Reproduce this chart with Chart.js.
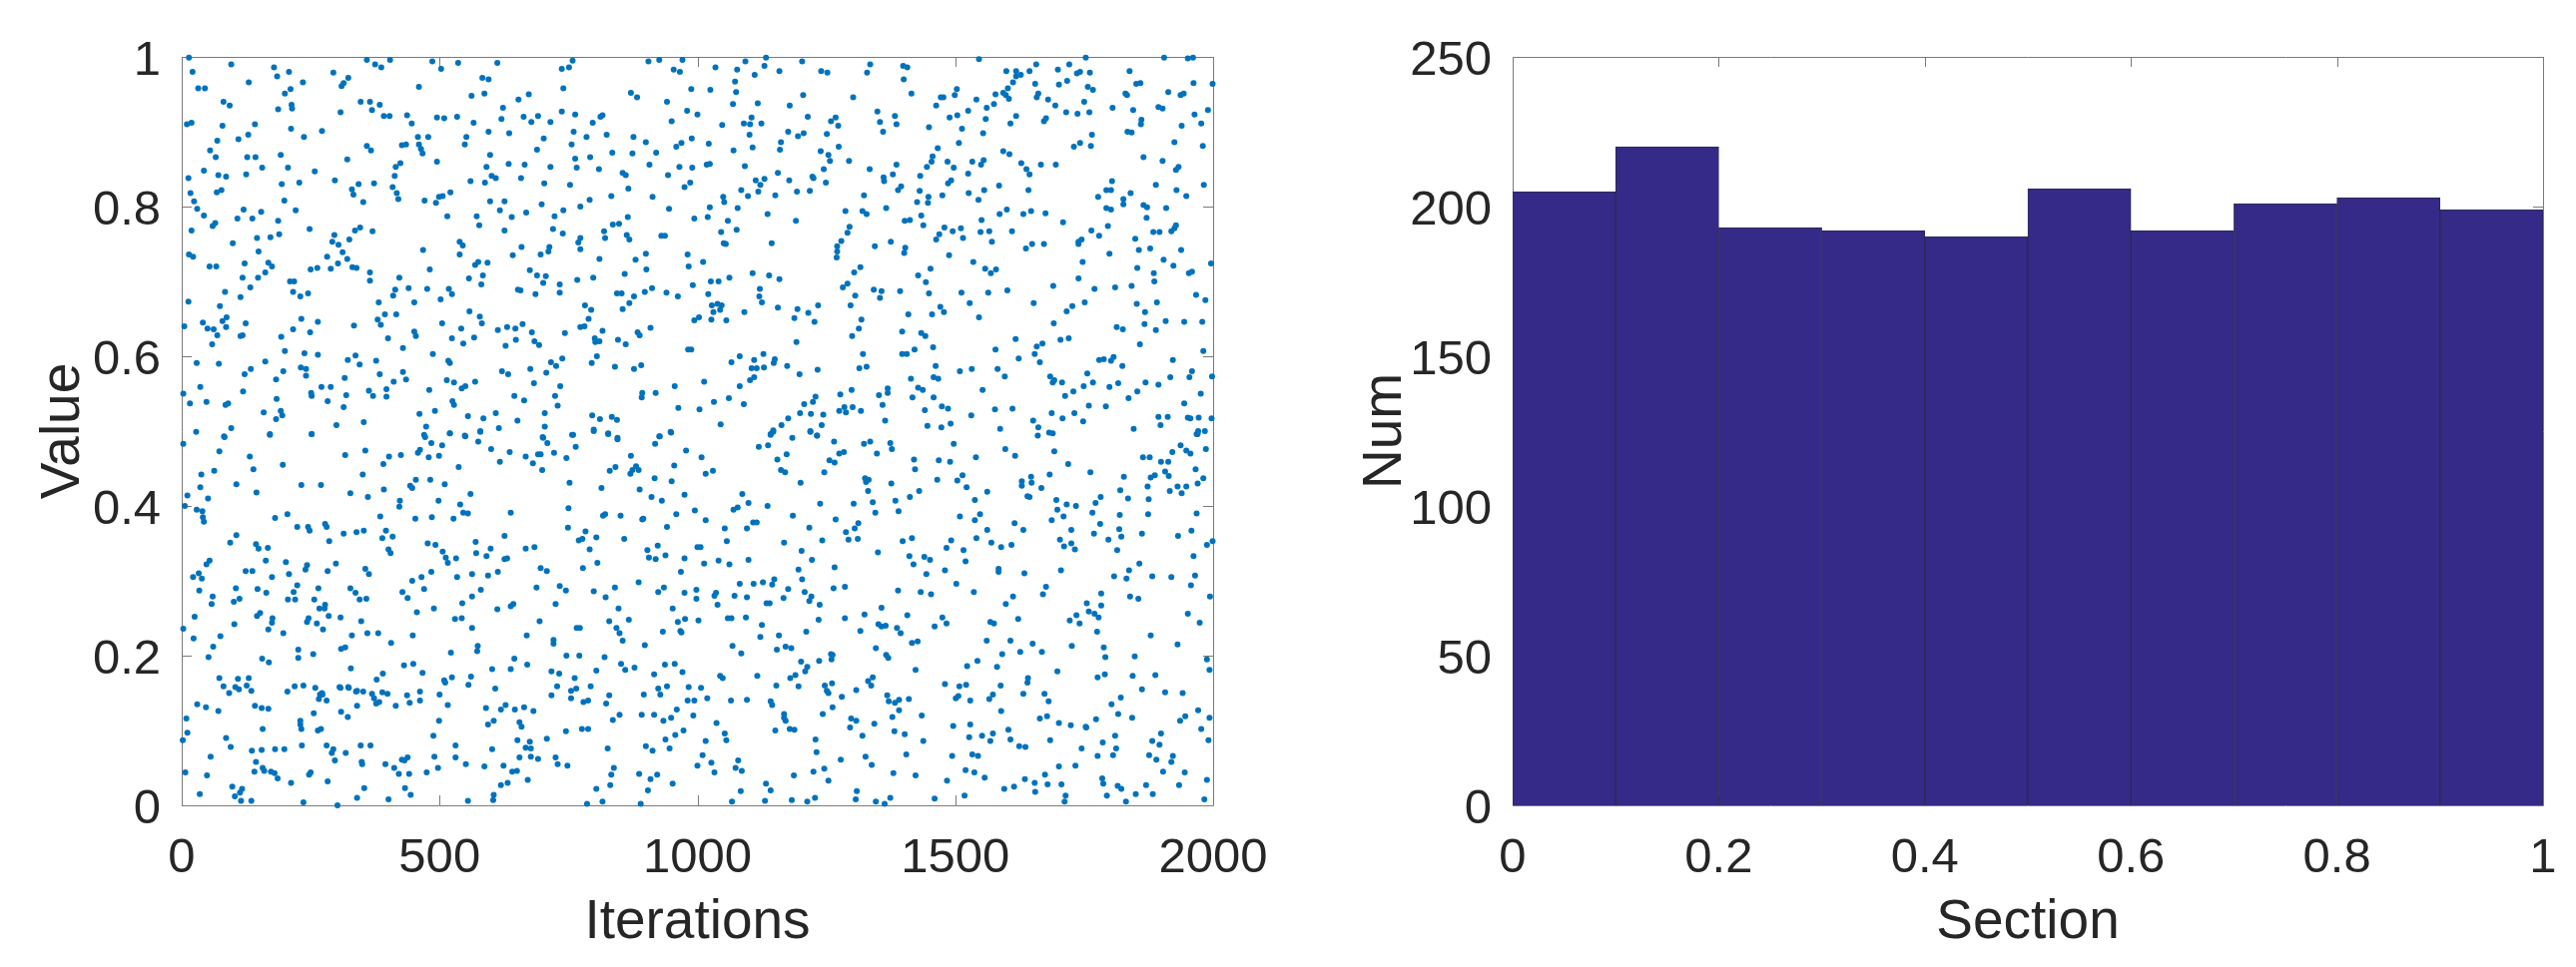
<!DOCTYPE html>
<html>
<head>
<meta charset="utf-8">
<title>Iterations and sections</title>
<script src="https://cdn.jsdelivr.net/npm/chart.js@4"></script>
<style>
  html, body { margin: 0; padding: 0; background: #fff; }
  canvas { position: absolute; top: 0; }
  #left { left: 0; }
  #right { left: 1290px; }
</style>
</head>
<body>
<canvas id="left" width="1290" height="969"></canvas>
<canvas id="right" width="1290" height="969"></canvas>
<script>
// [iteration, value]
const samplesUpperLeft = [[14,.999],[21,.98],[32,.958],[45,.958],[96,.99],[81,.94],[93,.935],[130,.966],[179,.986],[185,.974],[208,.98],[235,.966],[211,.957],[200,.951],[213,.936],[214,.931],[187,.93],[294,.979],[323,.972],[314,.965],[310,.961],[359,.996],[375,.99],[387,.986],[404,.996],[486,.994],[503,.984],[536,.992],[612,.992],[583,.972],[595,.97],[460,.96],[562,.948],[587,.951],[347,.94],[365,.94],[384,.936],[369,.929],[308,.926],[392,.921],[403,.921],[437,.922],[446,.911],[495,.919],[509,.918],[534,.92],[566,.912],[623,.932],[620,.917],[653,.943],[673,.95],[663,.92],[678,.913],[691,.921],[715,.913],[737,.984],[751,.986],[758,.995],[740,.958],[737,.927],[763,.923],[816,.922],[797,.912],[812,.92],[871,.952],[883,.946],[905,.994],[926,.996],[971,.996],[954,.983],[966,.98],[988,.957],[941,.94],[980,.928],[1000,.923],[950,.914],
[10,.91],[19,.912],[79,.908],[142,.91],[212,.904],[272,.901],[237,.893],[129,.896],[110,.89],[69,.888],[55,.875],[66,.866],[127,.866],[143,.866],[192,.869],[156,.852],[206,.852],[43,.848],[125,.843],[258,.847],[71,.842],[86,.84],[13,.838],[297,.835],[194,.83],[228,.832],[17,.818],[77,.822],[68,.819],[24,.807],[30,.797],[43,.788],[120,.796],[154,.793],[108,.784],[137,.784],[199,.808],[221,.795],[187,.781],[65,.778],[60,.774],[19,.768],[248,.77],[189,.763],[172,.759],[146,.758],[99,.751],[149,.74],[14,.736],[22,.733],[122,.724],[54,.72],[67,.72],[168,.725],[175,.72],[162,.712],[118,.705],[148,.705],[210,.7],[218,.7],[133,.692],[84,.686],[114,.679],[216,.686],[230,.68],[245,.684],[13,.673],[74,.667],[87,.652],[79,.647],[41,.645],[5,.64],[50,.637],[62,.636],[69,.628],[86,.639],[124,.644],[114,.627],[118,.628],[59,.616],[193,.626],[216,.636],[232,.65],[249,.632],[264,.646],[29,.591],[72,.59],[162,.593],[200,.607],[238,.604],[264,.602],
[296,.762],[292,.753],[304,.749],[336,.768],[346,.772],[370,.767],[325,.756],[312,.739],[321,.73],[282,.733],[303,.724],[289,.717],[263,.718],[250,.716],[331,.719],[339,.718],[365,.712],[365,.701],[422,.705],[414,.689],[410,.681],[440,.691],[476,.69],[451,.672],[382,.672],[394,.656],[416,.656],[380,.649],[386,.642],[334,.641],[400,.624],[451,.633],[454,.627],[429,.611],[337,.601],[322,.595],[345,.589],[377,.594],[384,.576],[429,.579],[435,.569],[411,.566],[397,.556],[397,.546],[363,.554],[371,.547],[316,.571],[271,.559],[289,.559],[251,.551],[252,.547],[283,.54],[319,.548],[314,.532],[353,.512],[300,.508],[252,.496],
[183,.569],[197,.58],[231,.585],[241,.583],[241,.574],[122,.576],[134,.583],[36,.559],[3,.55],[16,.537],[48,.539],[85,.535],[90,.537],[119,.553],[184,.543],[159,.525],[192,.527],[195,.521],[183,.516],[96,.504],[28,.499],[82,.493],[171,.496],
[458,.893],[478,.893],[427,.882],[435,.883],[460,.883],[464,.877],[467,.871],[359,.881],[367,.875],[321,.863],[415,.853],[424,.858],[413,.841],[495,.86],[330,.823],[343,.83],[373,.831],[333,.816],[409,.826],[417,.818],[420,.81],[352,.806],[471,.808],[493,.805],[499,.813],[506,.814],[521,.819],[515,.787],[468,.742],[572,.787],[577,.775],[539,.753],[545,.748],[539,.736],[481,.716],[569,.722],[575,.726],[593,.725],[557,.704],[584,.708],[581,.696],[518,.69],[524,.683],[502,.676],[558,.66],[578,.653],[582,.644],[505,.644],[542,.637],[524,.624],[567,.625],[546,.617],[487,.603],[517,.594],[520,.591],[514,.568],[528,.565],[543,.557],[550,.56],[569,.566],[480,.555],[525,.54],[528,.535],[461,.523],[491,.527],[555,.52],[585,.517],[609,.524],[651,.514],[615,.504],[474,.506],[470,.495],[520,.497],[549,.494],[579,.5],
[595,.9],[635,.898],[552,.893],[549,.883],[598,.869],[634,.857],[665,.856],[591,.853],[601,.841],[609,.838],[560,.834],[588,.832],[658,.838],[598,.807],[626,.807],[617,.795],[640,.786],[668,.792],[626,.768],[689,.876],[702,.891],[715,.853],[703,.831],[698,.803],[723,.787],[740,.795],[753,.829],[766,.852],[763,.864],[756,.883],[760,.9],[785,.893],[792,.866],[809,.85],[824,.896],[835,.872],[855,.845],[861,.842],[876,.893],[874,.871],[900,.886],[920,.872],[907,.856],[943,.842],[965,.853],[990,.852],[959,.88],[969,.885],[989,.891],[866,.824],[833,.814],[913,.813],[791,.809],[773,.8],[945,.797],[975,.826],[986,.832],[994,.784],[865,.786],[836,.776],[848,.777],[819,.767],[821,.758],[720,.77],[739,.764],[773,.758],[769,.752],[773,.743],[863,.762],[868,.756],[930,.761],[937,.761],[659,.746],[713,.746],[711,.74],[696,.736],[642,.735],[810,.73],[880,.729],[900,.737],[981,.736],[983,.72],[901,.716],[675,.715],[689,.708],[706,.707],[701,.698],[733,.696],[798,.705],[767,.702],[859,.71],[991,.695],[652,.689],[657,.688],[686,.683],[733,.685],[844,.684],[853,.684],[898,.686],[912,.691],[940,.685],[962,.68],[877,.68],[868,.671],[855,.663],[782,.668],[794,.662],[789,.65],[773,.639],[781,.64],[816,.634],[994,.648],[661,.643],[613,.635],[631,.639],[647,.637],[679,.632],[743,.631],[884,.632],[888,.628],[909,.638],[648,.622],[628,.614],[684,.62],[693,.615],[801,.624],[802,.619],[810,.62],[846,.622],[861,.616],[982,.609],[988,.609],[805,.6],[738,.597],[716,.592],[726,.587],[795,.591],[840,.586],[891,.588],[877,.583],[621,.58],[633,.576],[676,.583],[707,.578],[683,.564],[734,.56],[956,.56],[919,.551],[893,.551],[892,.545],[645,.547],[664,.541],[724,.547],[729,.534],[963,.531],[704,.524],[796,.521],[811,.516],[834,.519],[844,.515],[704,.506],[700,.492],[759,.495],[799,.502],[827,.497],[845,.491],[926,.493],[948,.499]];
const samplesUpperRight = [[1035,.986],[1077,.983],[1093,.994],[1133,.999],[1130,.988],[1111,.976],[1159,.981],[1203,.994],[1240,.981],[1252,.979],[1335,.99],[1329,.979],[1399,.988],[1407,.986],[1400,.97],[1415,.951],[1073,.967],[1075,.953],[1025,.956],[1205,.949],[1302,.946],[1069,.937],[1117,.938],[1179,.935],[1214,.92],[1105,.919],[1090,.911],[1102,.91],[1124,.911],[1048,.909],[1101,.896],[1176,.9],[1195,.894],[1206,.898],[1259,.914],[1268,.919],[1273,.908],[1251,.897],[1022,.884],[1107,.879],[1070,.875],[1162,.886],[1160,.876],[1239,.874],[1274,.88],[1254,.869],[1257,.861],[1294,.861],[1245,.85],[1092,.854],[1018,.856],[1024,.857],[1156,.845],[1113,.835],[1130,.837],[1122,.829],[1178,.835],[1223,.84],[1225,.838],[1249,.832],[1085,.822],[1118,.82],[1098,.814],[1151,.815],[1193,.82],[1218,.821],[1050,.813],[1052,.806],[1024,.799],[1078,.798],[1020,.786],[1059,.781],[1136,.79],[1191,.781],[1046,.766],[1076,.769],[1051,.751],[1055,.75],[1144,.751],[1011,.726],[1107,.711],[1139,.708],[1159,.703],[1026,.7],[1041,.7],[1062,.705],[1021,.683],[1121,.69],[1120,.68],[1125,.672],[1028,.668],[1039,.67],[1047,.668],[1044,.662],[1031,.659],[1091,.659],[1156,.665],[1194,.663],[1188,.651],[1215,.658],[1234,.668],[1227,.646],[1003,.652],[1027,.649],[1056,.648],[1192,.619],[1082,.6],[1128,.603],[1110,.595],[1066,.592],[1150,.596],[1148,.591],[1174,.587],[1105,.584],[1115,.584],[1129,.585],[1198,.576],[1233,.582],[1013,.566],[1102,.568],[1110,.572],[1082,.56],[1032,.539],[1061,.544],[1090,.536],[1004,.529],[1045,.509],[1229,.546],[1207,.536],[1224,.539],[1199,.524],[1220,.523],[1244,.522],[1176,.517],[1163,.508],[1147,.501],[1142,.496],[1241,.508],[1219,.5],[1232,.494],
[1349,.927],[1383,.921],[1354,.913],[1386,.91],[1360,.9],[1449,.906],[1463,.935],[1472,.946],[1477,.946],[1503,.957],[1499,.949],[1541,.943],[1525,.928],[1504,.922],[1489,.919],[1561,.932],[1575,.937],[1578,.95],[1593,.952],[1598,.949],[1604,.944],[1602,.958],[1612,.966],[1618,.974],[1627,.976],[1599,.981],[1618,.981],[1644,.981],[1657,.99],[1546,.997],[1655,.964],[1661,.951],[1658,.946],[1680,.943],[1694,.935],[1559,.917],[1618,.921],[1607,.911],[1672,.914],[1676,.918],[1513,.904],[1554,.898],[1507,.885],[1466,.878],[1456,.867],[1454,.86],[1445,.853],[1432,.841],[1386,.856],[1379,.843],[1361,.839],[1362,.834],[1334,.85],[1395,.827],[1389,.822],[1323,.815],[1431,.821],[1448,.813],[1447,.805],[1426,.806],[1475,.815],[1485,.86],[1497,.852],[1533,.86],[1555,.862],[1550,.856],[1525,.844],[1492,.835],[1486,.831],[1526,.818],[1545,.809],[1556,.822],[1585,.828],[1593,.874],[1605,.87],[1628,.858],[1638,.85],[1644,.843],[1666,.856],[1695,.856],[1642,.822],[1287,.794],[1320,.794],[1328,.79],[1366,.798],[1434,.788],[1402,.781],[1412,.782],[1438,.775],[1295,.773],[1291,.765],[1279,.754],[1271,.747],[1271,.74],[1270,.732],[1344,.747],[1375,.753],[1403,.745],[1401,.738],[1479,.772],[1469,.763],[1463,.756],[1495,.767],[1511,.771],[1515,.758],[1488,.735],[1551,.782],[1549,.766],[1566,.767],[1610,.767],[1571,.753],[1600,.796],[1586,.79],[1632,.79],[1647,.794],[1675,.791],[1709,.779],[1637,.744],[1649,.75],[1672,.75],[1535,.726],[1452,.717],[1428,.708],[1443,.699],[1558,.717],[1569,.711],[1579,.716],[1316,.719],[1304,.712],[1291,.697],[1282,.692],[1306,.681],[1297,.668],[1342,.689],[1357,.687],[1354,.678],[1393,.687],[1449,.684],[1512,.685],[1564,.685],[1601,.688],[1528,.671],[1471,.666],[1478,.659],[1455,.656],[1409,.656],[1546,.652],[1652,.671],[1690,.694],[1691,.644],[1318,.649],[1313,.637],[1300,.627],[1397,.633],[1434,.631],[1442,.627],[1457,.612],[1578,.609],[1617,.623],[1658,.613],[1669,.617],[1704,.622],[1321,.603],[1397,.603],[1406,.603],[1421,.609],[1623,.597],[1654,.603],[1664,.592],[1314,.584],[1328,.586],[1462,.587],[1509,.58],[1532,.583],[1582,.583],[1596,.573],[1414,.57],[1458,.572],[1467,.57],[1684,.573],[1692,.568],[1689,.565],[1707,.565],[1428,.558],[1437,.555],[1553,.555],[1299,.555],[1369,.557],[1369,.551],[1277,.549],[1352,.548],[1417,.545],[1458,.545],[1359,.535],[1285,.532],[1301,.532],[1275,.527],[1288,.525],[1317,.527],[1441,.528],[1474,.533],[1486,.53],[1577,.529],[1611,.53],[1531,.521],[1364,.514],[1491,.51],[1446,.507],[1473,.505],[1587,.503],[1651,.514],[1661,.505],[1660,.494],[1682,.498],[1689,.497],[1687,.524],[1708,.517],
[1753,.999],[1721,.99],[1699,.983],[1736,.978],[1742,.98],[1761,.979],[1717,.968],[1701,.963],[1757,.96],[1767,.956],[1750,.94],[1715,.926],[1737,.924],[1760,.926],[1765,.896],[1763,.881],[1730,.88],[1742,.885],[1805,.932],[1838,.981],[1830,.951],[1833,.949],[1851,.964],[1859,.965],[1905,.999],[1951,.998],[1961,.999],[1913,.953],[1937,.949],[1943,.951],[1962,.965],[1999,.964],[1990,.929],[1894,.933],[1902,.931],[1845,.929],[1861,.916],[1860,.91],[1964,.923],[1977,.911],[1939,.908],[1834,.9],[1842,.899],[1925,.886],[1980,.881],[1865,.866],[1902,.861],[1928,.849],[1933,.853],[1982,.829],[1889,.829],[1804,.834],[1793,.822],[1802,.822],[1840,.818],[1777,.813],[1826,.81],[1826,.803],[1929,.822],[1948,.814],[1865,.802],[1872,.799],[1793,.798],[1802,.796],[1909,.798],[1871,.785],[1796,.774],[1764,.768],[1779,.761],[1745,.756],[1739,.753],[1739,.75],[1884,.766],[1896,.766],[1928,.775],[1925,.771],[1919,.767],[1849,.757],[1856,.742],[1878,.744],[1938,.742],[1799,.737],[1747,.726],[1904,.729],[1923,.721],[1853,.718],[1885,.711],[1886,.7],[1953,.711],[1959,.713],[1996,.724],[1739,.704],[1842,.694],[1810,.692],[1770,.69],[1967,.682],[1985,.675],[1852,.67],[1891,.672],[1751,.672],[1727,.667],[1716,.66],[1868,.659],[1867,.643],[1908,.647],[1944,.646],[1979,.646],[1813,.639],[1825,.636],[1889,.635],[1720,.624],[1858,.616],[1981,.607],[1779,.595],[1788,.596],[1802,.594],[1807,.599],[1824,.587],[1922,.595],[1959,.58],[1954,.572],[1917,.572],[1998,.573],[1756,.577],[1767,.565],[1749,.56],[1729,.553],[1713,.547],[1799,.559],[1816,.564],[1869,.565],[1894,.562],[1853,.553],[1836,.544],[1976,.55],[1944,.537],[1759,.534],[1792,.533],[1731,.524],[1748,.513],[1894,.519],[1912,.519],[1951,.518],[1956,.517],[1972,.518],[1997,.517],[1898,.508],[1846,.503],[1971,.5],[1984,.5],[1968,.496]];
const samplesLowerLeft = [[3,.483],[73,.473],[83,.492],[171,.495],[252,.496],[132,.466],[139,.449],[63,.447],[38,.442],[36,.425],[106,.429],[145,.418],[196,.455],[232,.428],[270,.428],[317,.468],[356,.474],[351,.442],[391,.456],[402,.466],[425,.468],[458,.471],[462,.475],[479,.465],[499,.467],[505,.481],[484,.484],[472,.492],[327,.417],[361,.412],[392,.422],[443,.427],[447,.424],[454,.435],[482,.435],[510,.429],
[11,.414],[6,.4],[29,.395],[40,.393],[41,.385],[43,.379],[51,.41],[181,.384],[205,.389],[224,.372],[245,.372],[248,.367],[278,.376],[281,.372],[286,.353],[314,.363],[339,.365],[353,.367],[385,.386],[396,.367],[389,.357],[409,.359],[401,.342],[405,.337],[422,.399],[423,.407],[453,.383],[485,.385],[498,.407],
[106,.361],[94,.351],[144,.349],[149,.343],[167,.344],[163,.327],[202,.325],[243,.321],[240,.315],[299,.323],[283,.313],[208,.309],[175,.305],[124,.313],[137,.313],[54,.327],[48,.322],[33,.31],[22,.305],[39,.303],[34,.287],[60,.279],[58,.269],[105,.29],[147,.289],[164,.284],[112,.276],[101,.272],[224,.294],[217,.285],[206,.275],[220,.275],[265,.29],[257,.275],[278,.268],[267,.263],[277,.263],[285,.253],[327,.29],[337,.284],[345,.275],[358,.276],[356,.316],[363,.309],[428,.285],[438,.277],[447,.3],[465,.305],[484,.312],[470,.289],[456,.258],[489,.263],[477,.35],[492,.348],[506,.339],[512,.331],[516,.324],[532,.33],[534,.305],[563,.309],[544,.27],[563,.279],[580,.288],[594,.307],[613,.312],[612,.262],[638,.266],[643,.269],[570,.352],[571,.337],[591,.333],[599,.343],[626,.329],[631,.33],[626,.36],[667,.343],[684,.345],[696,.317],[708,.313],[688,.291],[733,.293],[745,.287],[725,.269],[694,.246],[530,.249],[543,.25],[563,.237],
[146,.253],[152,.257],[102,.242],[25,.252],[3,.236],[23,.223],[75,.226],[61,.212],[52,.198],[176,.25],[175,.244],[168,.235],[197,.23],[243,.245],[246,.25],[262,.243],[274,.235],[308,.251],[348,.246],[330,.227],[360,.23],[381,.23],[448,.227],[406,.217],[317,.211],[309,.209],[226,.208],[226,.197],[255,.202],[156,.196],[169,.191],[522,.204],[574,.213],[573,.206],
[328,.183],[431,.187],[449,.189],[467,.177],[390,.176],[378,.168],[509,.167],[511,.164],[524,.171],[561,.172],[556,.161],[602,.182],[638,.182],[645,.196],[670,.188],[608,.156],[73,.17],[109,.169],[130,.17],[81,.159],[92,.15],[111,.155],[126,.16],[135,.153],[219,.159],[205,.152],[259,.157],[306,.158],[323,.158],[340,.153],[268,.148],[273,.148],[369,.149],[389,.151],[437,.147],[462,.152],[500,.148],
[516,.134],[499,.113],[488,.093],[490,.065],[497,.05],[475,.044],[531,.08],[531,.064],[551,.055],[587,.052],[555,.006],[605,.014],[604,.007],[590,.13],[605,.113],[594,.108],[619,.128],[628,.134],[646,.128],[664,.131],[682,.126],[655,.111],[659,.105],[602,.075],[651,.087],[675,.085],[667,.077],[677,.076],[655,.064],[677,.065],[691,.062],[708,.089],[725,.064],[729,.055],[748,.053],[624,.053],[641,.045],[650,.046],[619,.027],[632,.03],[671,.034],[717,.179],[732,.176],[762,.17],[728,.159],[717,.147],[755,.153],[765,.156],[793,.159],[755,.143],[779,.138],[788,.14],[829,.147],[823,.136],[849,.121],[836,.114],[745,.099],[776,.102],[788,.102],[826,.076],[838,.05],[833,.041],[831,.027],[804,.022],[816,.005],[786,.002],[890,.002],[887,.042],[909,.035],[922,.041],[952,.029],[904,.02],[900,.079],[913,.073],[946,.076],[938,.088],[957,.094],[973,.1],[892,.121],[916,.121],[934,.113],[949,.117],[960,.128],[992,.12],[896,.148],[924,.156],[928,.148],[941,.159],[981,.14],[994,.14],[983,.158],[916,.175],[937,.188],[956,.189],[971,.178],[878,.184],[852,.189],[860,.181],[820,.198],[804,.18],[746,.2],[771,.2],[898,.214],[855,.22],[849,.23],[843,.237],[829,.246],[867,.248],[772,.237],[766,.237],[721,.221],[721,.216],[669,.227],[933,.232],[969,.231],[967,.233],[962,.245],[976,.249],[952,.263],[847,.263],[799,.286],[822,.278],[840,.291],[886,.298],[924,.285],[935,.291],[975,.284],[998,.276],[998,.288],[968,.312],[975,.33],[903,.341],[923,.347],[938,.334],[906,.331],[919,.329],[1000,.345],[806,.324],[778,.317],[791,.342],[770,.354],[783,.366],[804,.358],[777,.356],[749,.371],[750,.397],[858,.356],[821,.389],[817,.387],[851,.387],[895,.383],[893,.382],[638,.391],[959,.389],[941,.372],[995,.394],[975,.415],[931,.407],[911,.412],[752,.431],[814,.424],[888,.422],[917,.437],[950,.433],[830,.447],[841,.452],[870,.443],[874,.448],[881,.453],[886,.448],[871,.467],[955,.454],[978,.474],[918,.483],[927,.493],[949,.498],[845,.489],[827,.496],[799,.5],[764,.479],[757,.495],[746,.464],[722,.471],[701,.491],[709,.484],[667,.466],[691,.469],[696,.469],[681,.457],[699,.448],[636,.472],[617,.459],[600,.476],[575,.486],[579,.499],[550,.493],[520,.497],[537,.452],[560,.416],[540,.402],[546,.391],[555,.39],[527,.383],
[7,.044],[2,.087],[11,.097],[9,.116],[30,.135],[47,.131],[56,.065],[49,.04],[35,.015],[104,.158],[71,.126],[142,.133],[155,.13],[168,.129],[230,.113],[256,.123],[266,.142],[281,.14],[272,.15],[236,.16],[308,.157],[324,.157],[338,.152],[352,.152],[340,.133],[322,.118],[309,.125],[264,.1],[270,.102],[230,.108],[232,.102],[157,.102],[86,.09],[95,.078],[136,.073],[155,.074],[144,.058],[157,.05],[181,.075],[199,.075],[233,.08],[281,.08],[294,.075],[291,.07],[297,.06],[318,.07],[347,.08],[366,.08],[349,.058],[350,.055],[141,.045],[160,.046],[173,.045],[180,.043],[186,.036],[212,.03],[250,.044],[247,.041],[283,.032],[395,.055],[412,.05],[427,.061],[432,.06],[438,.064],[421,.042],[441,.042],[98,.025],[117,.022],[113,.017],[103,.012],[115,.006],[135,.006],[236,.004],[302,.0],[340,.01],[354,.023],[401,.008],[433,.023],[444,.014],[373,.143],[399,.149],[377,.136],[383,.138],[415,.133],[442,.137],[462,.14]];
const samplesLowerRight = [[1008,.465],[1016,.443],[1030,.447],[1016,.381],[1053,.37],[1057,.353],[1006,.345],[1013,.323],[1041,.327],[1062,.322],[1099,.328],[1087,.416],[1099,.404],[1070,.395],[1078,.398],[1136,.4],[1096,.37],[1108,.378],[1115,.378],[1119,.479],[1137,.481],[1142,.495],[1147,.499],[1184,.491],[1219,.499],[1232,.494],[1173,.469],[1155,.462],[1162,.448],[1170,.445],[1200,.431],[1246,.445],[1256,.461],[1266,.458],[1275,.47],[1284,.472],[1265,.486],[1323,.483],[1335,.486],[1348,.47],[1374,.484],[1377,.476],[1420,.462],[1422,.449],[1468,.461],[1490,.459],[1497,.483],[1540,.465],[1597,.476],[1616,.467],[1719,.456],[1762,.445],[1692,.473],[1683,.442],[1514,.441],[1504,.434],[1522,.425],[1465,.435],[1430,.42],[1412,.412],[1376,.43],[1384,.407],[1390,.393],[1325,.437],[1332,.435],[1327,.432],[1331,.42],[1340,.405],[1345,.391],[1303,.403],[1238,.403],[1185,.387],[1217,.371],[1268,.382],[1312,.377],[1305,.37],[1288,.365],[1293,.355],[1311,.356],[1242,.354],[1168,.351],[1202,.34],[1222,.328],[1196,.315],[1203,.302],[1266,.318],[1350,.338],[1398,.353],[1416,.357],[1411,.333],[1419,.322],[1440,.332],[1451,.328],[1444,.309],[1480,.314],[1483,.344],[1492,.354],[1516,.341],[1520,.326],[1509,.386],[1538,.381],[1548,.389],[1538,.408],[1562,.419],[1562,.368],[1541,.357],[1570,.351],[1589,.345],[1609,.348],[1615,.377],[1632,.368],[1629,.433],[1629,.427],[1647,.439],[1648,.431],[1667,.424],[1640,.413],[1644,.412],[1696,.408],[1698,.395],[1716,.402],[1734,.4],[1687,.381],[1710,.386],[1725,.368],[1703,.355],[1711,.346],[1725,.35],[1732,.342],[1782,.412],[1772,.404],[1766,.391],[1781,.376],[1769,.363],[1797,.355],[1822,.359],[1818,.369],[1819,.388],[1814,.341],[1820,.421],[1835,.41],[1827,.439],[1873,.426],[1875,.409],[1874,.389],[1862,.363],[1879,.438],[1887,.441],[1864,.465],[1877,.465],[1899,.459],[1913,.459],[1907,.446],[1914,.44],[1921,.472],[1937,.481],[1948,.474],[1956,.47],[1966,.449],[1986,.476],[1970,.496],[1981,.437],[1970,.43],[1948,.426],[1931,.426],[1939,.417],[1916,.42],[1968,.39],[1958,.367],[1932,.36],[1999,.353],[1988,.348],[1962,.333],[1965,.307],[1957,.294],[1994,.279],[1951,.256],[1974,.244],[1919,.305],[1882,.306],[1857,.323],[1837,.314],[1832,.303],[1808,.306],[1839,.279],[1855,.276],[1783,.283],[1783,.267],[1755,.27],[1759,.259],[1770,.256],[1778,.251],[1735,.254],[1722,.247],[1741,.243],[1775,.232],[1726,.213],[1705,.314],[1676,.292],[1670,.282],[1634,.31],[1584,.316],[1584,.312],[1612,.279],[1598,.269],[1622,.249],[1536,.285],[1502,.296],[1453,.282],[1433,.285],[1389,.287],[1475,.251],[1483,.243],[1460,.239],[1568,.245],[1575,.243],[1561,.22],[1607,.22],[1650,.216],[1626,.205],[1668,.205],[1591,.202],[1543,.193],[1523,.186],[1581,.185],[1698,.179],[1641,.17],[1640,.164],[1776,.171],[1790,.175],[1788,.211],[1791,.198],[1848,.199],[1879,.227],[1931,.215],[1988,.195],[1993,.181],[1844,.173],[1888,.174],[1862,.155],[1907,.151],[1941,.15],[1821,.144],[1803,.135],[1816,.122],[1843,.117],[1773,.115],[1753,.105],[1754,.104],[1724,.107],[1701,.11],[1678,.119],[1664,.116],[1673,.149],[1681,.139],[1632,.149],[1588,.16],[1573,.148],[1566,.142],[1529,.14],[1521,.161],[1508,.159],[1480,.162],[1501,.143],[1506,.146],[1589,.126],[1496,.106],[1529,.108],[1527,.091],[1552,.093],[1573,.096],[1568,.086],[1603,.101],[1607,.088],[1624,.079],[1636,.078],[1684,.087],[1745,.076],[1786,.084],[1810,.093],[1812,.076],[1806,.067],[1776,.066],[1882,.086],[1896,.081],[1899,.096],[1876,.067],[1890,.061],[1922,.066],[1919,.058],[1903,.045],[1945,.044],[1936,.113],[1946,.119],[1971,.127],[1993,.117],[1977,.102],[1991,.087],[1988,.034],[1934,.027],[1983,.008],[1883,.015],[1870,.027],[1850,.015],[1831,.005],[1822,.022],[1815,.026],[1794,.013],[1785,.036],[1787,.029],[1733,.053],[1701,.052],[1674,.041],[1679,.028],[1706,.028],[1654,.03],[1655,.018],[1635,.035],[1614,.025],[1595,.022],[1714,.013],[1712,.005],[1557,.037],[1537,.044],[1520,.047],[1533,.068],[1544,.066],[1494,.066],[1484,.033],[1518,.013],[1460,.009],[1423,.04],[1380,.043],[1338,.054],[1326,.065],[1278,.061],[1405,.068],[1438,.086],[1402,.095],[1382,.099],[1435,.12],[1378,.118],[1343,.109],[1320,.093],[1296,.104],[1298,.116],[1308,.113],[1229,.088],[1231,.071],[1225,.045],[1246,.049],[1254,.033],[1187,.04],[1133,.029],[1142,.02],[1084,.019],[1067,.005],[1131,.006],[1183,.007],[1213,.005],[1228,.01],[1307,.008],[1309,.019],[1346,.005],[1363,.002],[1374,.01],[1079,.06],[1074,.05],[1086,.046],[1027,.057],[1010,.067],[1000,.053],[1033,.044],[1016,.086],[1056,.087],[1053,.096],[1037,.11],[1151,.1],[1179,.102],[1188,.101],[1171,.113],[1168,.122],[1168,.117],[1243,.122],[1262,.131],[1280,.145],[1251,.153],[1254,.15],[1261,.163],[1247,.16],[1308,.154],[1331,.166],[1340,.171],[1337,.16],[1368,.147],[1371,.139],[1383,.137],[1391,.141],[1410,.142],[1391,.127],[1423,.181],[1346,.21],[1366,.201],[1370,.197],[1416,.217],[1427,.219],[1259,.202],[1262,.201],[1260,.195],[1236,.193],[1201,.192],[1213,.185],[1209,.179],[1190,.174],[1180,.17],[1153,.16],[1196,.159],[1116,.173],[1044,.173],[1049,.17],[1007,.157],[1019,.143],[1065,.14],[1096,.141],[1142,.139],[1145,.134],[1154,.208],[1171,.212],[1182,.21],[1085,.203],[1068,.213],[1122,.225],[1158,.227],[1211,.232],[1125,.241],[1059,.25],[1066,.25],[1094,.251],[1002,.247],[1235,.248],[1286,.25],[1324,.255],[1316,.233],[1351,.242],[1357,.239],[1365,.24],[1357,.264],[1407,.254],[1387,.237],[1394,.23],[1039,.268],[1072,.28],[1096,.278],[1033,.28],[1036,.284],[1082,.296],[1109,.296],[1127,.298],[1149,.302],[1145,.295],[1176,.289],[1167,.277],[1134,.27],[1140,.27],[1208,.285],[1221,.279],[1217,.273],[1237,.268],[1264,.29],[1286,.292]];

const samples = [...samplesUpperLeft, ...samplesUpperRight, ...samplesLowerLeft, ...samplesLowerRight];

const binCentres = [0.05, 0.15, 0.25, 0.35, 0.45, 0.55, 0.65, 0.75, 0.85, 0.95];
const binCounts = [205, 220, 193, 192, 190, 206, 192, 201, 203, 199];

const textColor = '#262626';
const boxColor = '#7a7a7a';
const tickFont = { family: '"Liberation Sans", Arial, sans-serif', size: 49 };
const titleFont = { family: '"Liberation Sans", Arial, sans-serif', size: 55 };
const tickLen = 10;

// matlab style box with inward ticks on all four sides
const inwardBox = {
    id: 'inwardBox',
    beforeDatasetsDraw(chart) {
        const { ctx, chartArea: a, scales } = chart;
        ctx.save();
        ctx.strokeStyle = boxColor;
        ctx.lineWidth = 1;
        ctx.beginPath();
        ctx.rect(a.left + 0.5, a.top + 0.5, a.right - a.left, a.bottom - a.top);
        for (const t of scales.x.ticks) {
            const px = Math.round(scales.x.getPixelForValue(t.value)) + 0.5;
            ctx.moveTo(px, a.top); ctx.lineTo(px, a.top + tickLen);
            ctx.moveTo(px, a.bottom); ctx.lineTo(px, a.bottom - tickLen);
        }
        for (const t of scales.y.ticks) {
            const py = Math.round(scales.y.getPixelForValue(t.value)) + 0.5;
            ctx.moveTo(a.left, py); ctx.lineTo(a.left + tickLen, py);
            ctx.moveTo(a.right, py); ctx.lineTo(a.right - tickLen, py);
        }
        ctx.stroke();
        ctx.restore();
    }
};

function axis(min, max, step, title, titlePad, fit, pad, labelOffset) {
    return {
        type: 'linear',
        min: min,
        max: max,
        offset: false,
        grid: { display: false },
        border: { display: false },
        ticks: {
            stepSize: step,
            color: textColor,
            font: tickFont,
            padding: pad,
            labelOffset: labelOffset,
            maxRotation: 0,
            autoSkip: false,
            callback: v => String(+v.toFixed(1))
        },
        title: { display: true, text: title, color: textColor, font: titleFont, padding: titlePad },
        afterFit: fit
    };
}

new Chart(document.getElementById('left'), {
    type: 'scatter',
    data: {
        datasets: [{
            data: samples.map(s => ({ x: s[0], y: s[1] })),
            backgroundColor: '#0072BD',
            borderWidth: 0,
            pointRadius: 3,
            clip: false
        }]
    },
    options: {
        responsive: false,
        animation: false,
        layout: { padding: { left: 0, top: 57, right: 75, bottom: 0 } },
        plugins: { legend: { display: false }, tooltip: { enabled: false } },
        scales: {
            x: axis(0, 2000, 500, 'Iterations', { top: 0, bottom: 11 }, s => { s.height = 162; }, 16, 0),
            y: axis(0, 1, 0.2, 'Value', { top: 31, bottom: 0 }, s => { s.width = 182; }, 13, 4)
        }
    },
    plugins: [inwardBox]
});

new Chart(document.getElementById('right'), {
    type: 'bar',
    data: {
        datasets: [{
            data: binCentres.map((x, i) => ({ x: x, y: binCounts[i] })),
            backgroundColor: '#352A87',
            borderColor: '#2a2a52',
            borderWidth: 1,
            barPercentage: 1,
            categoryPercentage: 1
        }]
    },
    options: {
        responsive: false,
        animation: false,
        layout: { padding: { left: 0, top: 57, right: 33, bottom: 0 } },
        plugins: { legend: { display: false }, tooltip: { enabled: false } },
        scales: {
            x: axis(0, 1, 0.2, 'Section', { top: 0, bottom: 11 }, s => { s.height = 162; }, 16, 0),
            y: axis(0, 250, 50, 'Num', { top: 65, bottom: 0 }, s => { s.width = 225; }, 13, 4)
        }
    },
    plugins: [inwardBox]
});
</script>
</body>
</html>
